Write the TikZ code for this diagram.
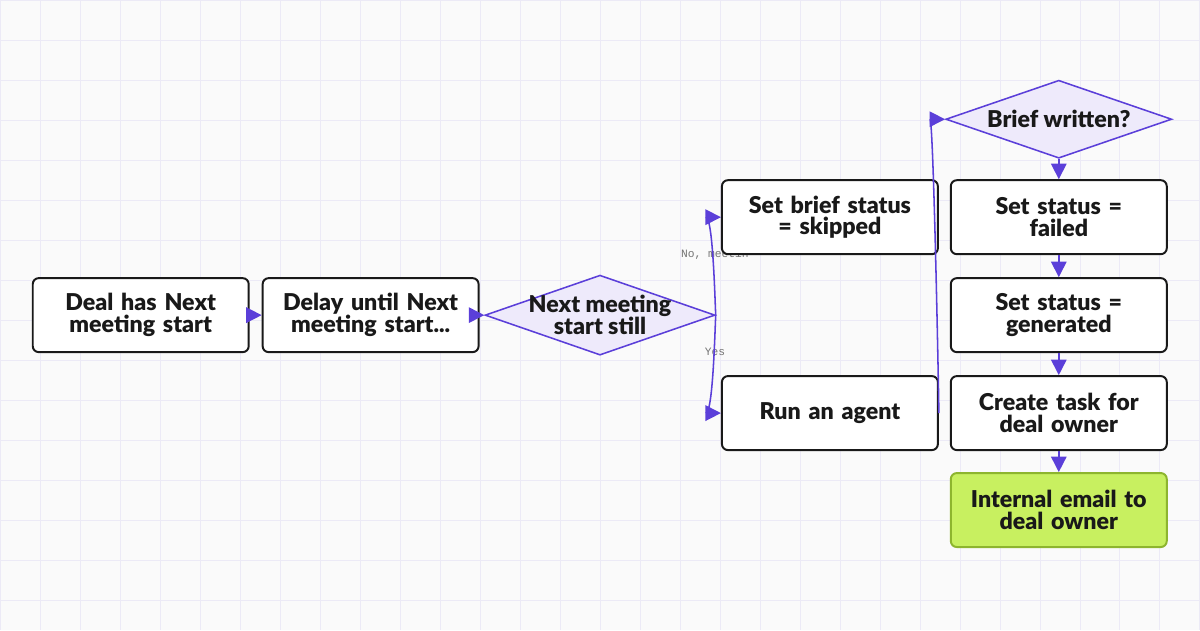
\documentclass[tikz,border=0pt]{standalone}
\usepackage{fontspec}
\setmainfont{Lato}[BoldFont={Lato Black}]
\newfontfamily\monofont{Liberation Mono}
\usetikzlibrary{shapes.geometric,arrows.meta,positioning}
\definecolor{flowline}{HTML}{5B3FD9}
\definecolor{flowfill}{HTML}{EEEAFB}
\definecolor{gridline}{HTML}{ECEAF6}
\definecolor{okfill}{HTML}{C8F060}
\definecolor{okdraw}{HTML}{8DB52E}
\tikzstyle{recNode} = [rectangle, minimum width=5.4cm, minimum height=1.85cm, text width=5.1cm, align=center, rounded corners=0.15cm, draw=black!90, line width=1.4pt, fill=white, font=\fontsize{16.5}{15.5}\selectfont\bfseries, text=black!90]
\tikzstyle{recNodeG} = [recNode, draw=okdraw, fill=okfill]
\tikzstyle{decNode} = [diamond, aspect=2.85, inner sep=0pt, draw=flowline, fill=flowfill, line width=1.1pt]
\tikzstyle{decText} = [align=center, font=\fontsize{16.5}{15.5}\selectfont\bfseries, text=black!90]
\tikzstyle{arrowB} = [line width=1.1pt, draw=flowline, -{Triangle[length=11pt,width=11pt]}]
\tikzstyle{edgeLbl} = [font=\monofont\fontsize{8}{8}\selectfont, text=black!55]
\begin{document}
\begin{tikzpicture}[x=0.025cm, y=-0.025cm]
        \fill[black!2] (0,0) rectangle (1200,630);
        \foreach \g in {0,40,...,1200} \draw[gridline] (\g,0) -- (\g,630);
        \foreach \g in {0,40,...,630} \draw[gridline] (0,\g) -- (1200,\g);
        \useasboundingbox (0,0) rectangle (1200,630);

        \node (deal) [recNode] at (140.5,315) {Deal has Next\\meeting start};
        \node (delay) [recNode] at (370.5,315) {Delay until Next\\meeting start...};
        \node (still) [decNode, minimum width=5.75cm, minimum height=2cm] at (600,315) {};
        \node (stillTxt) [decText] at (still) {Next meeting\\start still};
        \node (nolbl) [edgeLbl] at (715,254) {No, meetin};
        \node (yeslbl) [edgeLbl] at (715,352) {Yes};
        \node (skip) [recNode] at (830,217) {Set brief status\\= skipped};
        \node (agent) [recNode] at (830,413) {Run an agent};
        \node (brief) [decNode, minimum width=5.65cm, minimum height=1.95cm] at (1059,119) {};
        \node (briefTxt) [decText] at (brief) {Brief written?};
        \node (failed) [recNode] at (1059,217) {Set status =\\failed};
        \node (gen) [recNode] at (1059,315) {Set status =\\generated};
        \node (task) [recNode] at (1059,413) {Create task for\\deal owner};
        \node (mail) [recNodeG] at (1059,510) {Internal email to\\deal owner};

        \draw [arrowB] (deal) -- (delay);
        \draw [arrowB] (delay) -- (still);
        \draw [arrowB] (still.east) to[out=95,in=180,looseness=0.2] (skip.west);
        \draw [arrowB] (still.east) to[out=-95,in=180,looseness=0.2] (agent.west);
        \draw [arrowB] (agent.east) to[out=90,in=180,looseness=0.1] (brief.west);
        \draw [arrowB] (brief) -- (failed);
        \draw [arrowB] (failed) -- (gen);
        \draw [arrowB] (gen) -- (task);
        \draw [arrowB] (task) -- (mail);
    \end{tikzpicture}
\end{document}
